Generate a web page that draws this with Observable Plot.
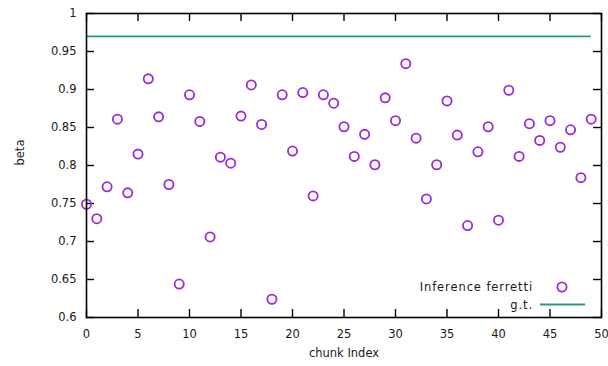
<!DOCTYPE html>
<html>
<head>
<meta charset="utf-8">
<script src="https://cdn.jsdelivr.net/npm/d3@7"></script>
<script src="https://cdn.jsdelivr.net/npm/@observablehq/plot@0.6"></script>
<style>
  html, body { margin: 0; padding: 0; background: #fff; }
  #chart svg { font-family: "DejaVu Sans", sans-serif; }
</style>
</head>
<body>
<div id="chart"></div>
<script>
// ---- data ----
const chunks = d3.range(0, 50);
const beta = [
  0.749, 0.730, 0.772, 0.861, 0.764, 0.815, 0.914, 0.864, 0.775, 0.644,
  0.893, 0.858, 0.706, 0.811, 0.803, 0.865, 0.906, 0.854, 0.624, 0.893,
  0.819, 0.896, 0.760, 0.893, 0.882, 0.851, 0.812, 0.841, 0.801, 0.889,
  0.859, 0.934, 0.836, 0.756, 0.801, 0.885, 0.840, 0.721, 0.818, 0.851,
  0.728, 0.899, 0.812, 0.855, 0.833, 0.859, 0.824, 0.847, 0.784, 0.861
];
const groundTruth = 0.97;
const xTicks = [0, 5, 10, 15, 20, 25, 30, 35, 40, 45, 50];
const xTickLabels = ["0", "5", "10", "15", "20", "25", "30", "35", "40", "45", "50"];
const yTicks = [0.6, 0.65, 0.7, 0.75, 0.8, 0.85, 0.9, 0.95, 1];
const yTickLabels = ["0.6", "0.65", "0.7", "0.75", "0.8", "0.85", "0.9", "0.95", "1"];
const seriesNames = ["Inference ferretti", "g.t."];

const points = chunks.map((c, i) => ({chunk: c, beta: beta[i]}));

const W = 608, H = 366;
const mL = 86, mR = 7, mT = 13, mB = 49;
const plotW = W - mL - mR, plotH = H - mT - mB;
const tickLen = 8;
const dotColor = "#9a2bd8";
const gtColor = "#1f9e80";
const textColor = "#1a1a1a";
const fontStyle = {fontSize: 11.5, letterSpacing: 0.9};

// legend drawn as a function mark relative to the frame
function legend(index, scales, values, dims) {
  const g = d3.create("svg:g")
    .attr("font-size", 11.5).attr("letter-spacing", 0.9).attr("fill", textColor);
  const right = dims.width - dims.marginRight;
  const bottom = dims.height - dims.marginBottom;
  g.append("text").attr("x", right - 68).attr("y", bottom - 30)
    .attr("text-anchor", "end").attr("dy", "0.35em").text(seriesNames[0]);
  g.append("circle").attr("cx", right - 39).attr("cy", bottom - 30).attr("r", 4.6)
    .attr("fill", "none").attr("stroke", dotColor).attr("stroke-width", 1.8);
  g.append("text").attr("x", right - 68).attr("y", bottom - 12)
    .attr("text-anchor", "end").attr("dy", "0.35em").text(seriesNames[1]);
  g.append("line").attr("x1", right - 61).attr("x2", right - 16)
    .attr("y1", bottom - 12.5).attr("y2", bottom - 12.5)
    .attr("stroke", gtColor).attr("stroke-width", 1.8);
  return g.node();
}

const chart = Plot.plot({
  width: W, height: H,
  marginLeft: mL, marginRight: mR, marginTop: mT, marginBottom: mB,
  style: {fontFamily: "DejaVu Sans, sans-serif", background: "#fff"},
  x: {domain: [0, 50], axis: null},
  y: {domain: [0.6, 1], axis: null},
  marks: [
    // ground truth
    Plot.ruleY([groundTruth], {x1: chunks[0], x2: chunks[chunks.length - 1], stroke: gtColor, strokeWidth: 1.8}),
    // inward ticks (bottom, top, left, right)
    Plot.tickX(xTicks, {x: d => d, insetTop: plotH - tickLen, stroke: "#000", strokeWidth: 1.4}),
    Plot.tickX(xTicks, {x: d => d, insetBottom: plotH - tickLen, stroke: "#000", strokeWidth: 1.4}),
    Plot.tickY(yTicks, {y: d => d, insetRight: plotW - tickLen, stroke: "#000", strokeWidth: 1.4}),
    Plot.tickY(yTicks, {y: d => d, insetLeft: plotW - tickLen, stroke: "#000", strokeWidth: 1.4}),
    // tick labels
    Plot.axisX({ticks: xTicks, tickSize: 0, tickPadding: 12, label: null,
      tickFormat: d => xTickLabels[xTicks.indexOf(d)], fill: textColor, ...fontStyle}),
    Plot.axisY({ticks: yTicks, tickSize: 0, tickPadding: 10, label: null,
      tickFormat: d => yTickLabels[yTicks.findIndex(t => Math.abs(t - d) < 1e-9)], fill: textColor, ...fontStyle}),
    // axis titles
    Plot.text(["chunk Index"], {frameAnchor: "bottom", dy: 39, fill: textColor, ...fontStyle}),
    Plot.text(["beta"], {frameAnchor: "left", dx: -66, rotate: -90, fill: textColor, ...fontStyle}),
    // data points
    Plot.dot(points, {x: "chunk", y: "beta", r: 4.6, stroke: dotColor, strokeWidth: 1.8, fill: "none"}),
    // border
    Plot.frame({stroke: "#000", strokeWidth: 1.6}),
    legend
  ]
});
document.getElementById("chart").appendChild(chart);
</script>
</body>
</html>
